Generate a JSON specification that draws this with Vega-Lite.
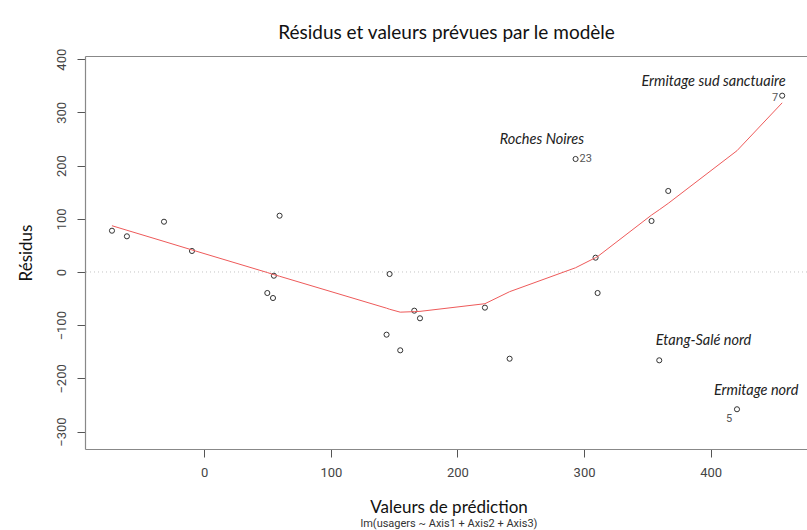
{
  "$schema": "https://vega.github.io/schema/vega-lite/v6.json",
  "width": 722,
  "height": 393,
  "autosize": {"type": "none"},
  "padding": {"left": 85, "top": 56, "right": 0, "bottom": 81},
  "background": "white",
  "config": {"view": {"stroke": null}},
  "title": {
    "text": "Valeurs de prédiction",
    "subtitle": "lm(usagers ~ Axis1 + Axis2 + Axis3)",
    "orient": "bottom",
    "anchor": "middle",
    "frame": "group",
    "font": "Lato",
    "fontSize": 17,
    "fontWeight": "normal",
    "color": "#111",
    "subtitleFont": "Roboto",
    "subtitleFontSize": 11,
    "subtitleColor": "#333",
    "subtitlePadding": 1,
    "offset": 21,
    "dx": 3
  },
  "datasets": {
    "pts": [
      {"x": -72.9, "y": 77.6, "id": ""},
      {"x": -61.1, "y": 67.1, "id": ""},
      {"x": -31.8, "y": 94.5, "id": ""},
      {"x": -9.7, "y": 39.5, "id": ""},
      {"x": 49.8, "y": -39.5, "id": ""},
      {"x": 54.3, "y": -48.9, "id": ""},
      {"x": 55.0, "y": -7.0, "id": ""},
      {"x": 59.5, "y": 105.8, "id": ""},
      {"x": 144.0, "y": -117.8, "id": ""},
      {"x": 146.4, "y": -3.8, "id": ""},
      {"x": 154.8, "y": -147.2, "id": ""},
      {"x": 165.9, "y": -72.7, "id": ""},
      {"x": 170.4, "y": -87.0, "id": ""},
      {"x": 221.7, "y": -67.0, "id": ""},
      {"x": 241.2, "y": -163.0, "id": ""},
      {"x": 293.3, "y": 212.4, "id": "23"},
      {"x": 309.1, "y": 26.9, "id": ""},
      {"x": 310.7, "y": -39.5, "id": ""},
      {"x": 353.3, "y": 95.9, "id": ""},
      {"x": 359.4, "y": -166.0, "id": ""},
      {"x": 366.5, "y": 152.3, "id": ""},
      {"x": 420.8, "y": -258.0, "id": "5"},
      {"x": 456.5, "y": 331.4, "id": "7"}
    ],
    "smooth": [
      {"x": -72.9, "y": 87},
      {"x": -61.1, "y": 78.5},
      {"x": -31.8, "y": 57.5},
      {"x": -9.7, "y": 41.5},
      {"x": 49.8, "y": -1},
      {"x": 54.3, "y": -4.5},
      {"x": 55.0, "y": -5},
      {"x": 59.5, "y": -8},
      {"x": 144.0, "y": -68},
      {"x": 146.4, "y": -70},
      {"x": 154.8, "y": -75.5},
      {"x": 165.9, "y": -74.5},
      {"x": 170.4, "y": -74},
      {"x": 221.7, "y": -59.6},
      {"x": 241.2, "y": -37},
      {"x": 293.3, "y": 8},
      {"x": 309.1, "y": 27},
      {"x": 310.7, "y": 29},
      {"x": 353.3, "y": 107},
      {"x": 359.4, "y": 117},
      {"x": 366.5, "y": 129},
      {"x": 420.8, "y": 228},
      {"x": 456.5, "y": 318}
    ],
    "notes": [
      {"x": 266.7, "y": 249, "label": "Roches Noires"},
      {"x": 402.3, "y": 357, "label": "Ermitage sud sanctuaire"},
      {"x": 394.4, "y": -129.1, "label": "Etang-Salé nord"},
      {"x": 436.0, "y": -223.7, "label": "Ermitage nord"}
    ],
    "zero": [{"y": 0}]
  },
  "resolve": {"axis": {"x": "independent"}},
  "layer": [
    {
      "data": {"name": "zero"},
      "mark": {"type": "rule", "color": "#bdbdbd", "strokeDash": [1, 3], "strokeWidth": 0.9},
      "encoding": {
        "y": {"field": "y", "type": "quantitative", "scale": {"domain": [-332.7, 406], "nice": false, "zero": false}}
      }
    },
    {
      "data": {"name": "pts"},
      "mark": {"type": "point", "shape": "circle", "filled": false, "color": "#333", "size": 26, "strokeWidth": 1, "opacity": 1},
      "encoding": {
        "x": {"field": "x", "type": "quantitative", "scale": {"domain": [-94.2, 476.1], "nice": false, "zero": false},
          "axis": {"orient": "bottom", "values": [0, 100, 200, 300, 400], "domainColor": "#888", "domainWidth": 1.2, "tickColor": "#555", "tickSize": 8,
            "labelFont": "Roboto", "labelFontSize": 13, "labelColor": "#444", "labelPadding": 9, "grid": false, "title": null}},
        "y": {"field": "y", "type": "quantitative", "scale": {"domain": [-332.7, 406], "nice": false, "zero": false},
          "axis": {"orient": "left", "values": [-300, -200, -100, 0, 100, 200, 300, 400], "domainColor": "#888", "domainWidth": 1.2, "tickColor": "#555", "tickSize": 8,
            "labelFont": "Roboto", "labelFontSize": 13, "labelColor": "#444", "labelAngle": -90, "labelAlign": "center", "labelBaseline": "bottom", "labelPadding": 9, "grid": false,
            "title": "Résidus", "titleFont": "Lato", "titleFontSize": 17, "titleFontWeight": "normal", "titleColor": "#111", "titlePadding": 20}}
      }
    },
    {
      "data": {"name": "smooth"},
      "mark": {"type": "line", "color": "#ee5a5a", "strokeWidth": 1},
      "encoding": {
        "x": {"field": "x", "type": "quantitative", "scale": {"domain": [-94.2, 476.1], "nice": false, "zero": false},
          "axis": {"orient": "top", "domainColor": "#888", "domainWidth": 1.2, "ticks": false, "labels": false, "grid": false,
            "title": "Résidus et valeurs prévues par le modèle", "titleFont": "Lato", "titleFontSize": 19, "titleFontWeight": "normal", "titleColor": "#111", "titlePadding": 14}},
        "y": {"field": "y", "type": "quantitative", "scale": {"domain": [-332.7, 406], "nice": false, "zero": false}}
      }
    },
    {
      "data": {"name": "pts"},
      "transform": [{"filter": "datum.id === '23'"}],
      "mark": {"type": "text", "align": "left", "baseline": "middle", "dx": 4, "font": "Roboto", "fontSize": 11, "color": "#555"},
      "encoding": {
        "x": {"field": "x", "type": "quantitative", "scale": {"domain": [-94.2, 476.1], "nice": false, "zero": false}, "axis": null},
        "y": {"field": "y", "type": "quantitative", "scale": {"domain": [-332.7, 406], "nice": false, "zero": false}},
        "text": {"field": "id"}
      }
    },
    {
      "data": {"name": "pts"},
      "transform": [{"filter": "datum.id === '7'"}],
      "mark": {"type": "text", "align": "right", "baseline": "middle", "dx": -4, "dy": 2, "font": "Roboto", "fontSize": 11, "color": "#555"},
      "encoding": {
        "x": {"field": "x", "type": "quantitative", "scale": {"domain": [-94.2, 476.1], "nice": false, "zero": false}, "axis": null},
        "y": {"field": "y", "type": "quantitative", "scale": {"domain": [-332.7, 406], "nice": false, "zero": false}},
        "text": {"field": "id"}
      }
    },
    {
      "data": {"name": "pts"},
      "transform": [{"filter": "datum.id === '5'"}],
      "mark": {"type": "text", "align": "center", "baseline": "middle", "dx": -8, "dy": 10, "font": "Roboto", "fontSize": 11, "color": "#555"},
      "encoding": {
        "x": {"field": "x", "type": "quantitative", "scale": {"domain": [-94.2, 476.1], "nice": false, "zero": false}, "axis": null},
        "y": {"field": "y", "type": "quantitative", "scale": {"domain": [-332.7, 406], "nice": false, "zero": false}},
        "text": {"field": "id"}
      }
    },
    {
      "data": {"name": "notes"},
      "mark": {"type": "text", "align": "center", "baseline": "middle", "font": "Lato", "fontStyle": "italic", "fontSize": 14.5, "color": "#222"},
      "encoding": {
        "x": {"field": "x", "type": "quantitative", "scale": {"domain": [-94.2, 476.1], "nice": false, "zero": false}, "axis": null},
        "y": {"field": "y", "type": "quantitative", "scale": {"domain": [-332.7, 406], "nice": false, "zero": false}},
        "text": {"field": "label"}
      }
    }
  ]
}
